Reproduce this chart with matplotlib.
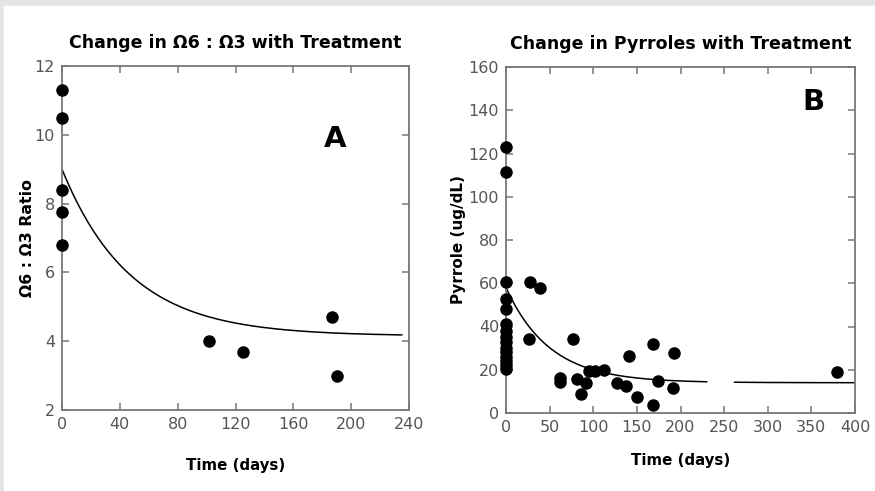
import numpy as np
import matplotlib
matplotlib.use("Agg")
import matplotlib.pyplot as plt
from matplotlib.patches import Rectangle

plt.rcParams["font.family"] = ["DejaVu Sans"]

# Panel A: omega-6 : omega-3 ratio
a_days = [0, 0, 0, 0, 0, 102, 125, 187, 190]
a_ratio = [11.3, 10.5, 8.4, 7.75, 6.8, 4.0, 3.7, 4.7, 3.0]
a_fit = (4.15, 4.85, 47.0)  # plateau, span, tau
a_fit_range = (0, 235)

# Panel B: pyrroles
b_days = [0, 0, 0, 0, 0, 0, 0, 0, 0, 0, 0, 0, 0, 0, 0,
          27, 39, 26, 62, 62, 77, 81, 86, 92, 95, 102, 112,
          127, 137, 141, 150, 168, 168, 174, 191, 193, 379]
b_pyrrole = [123, 111.4, 60.5, 52.8, 48, 41, 38, 35, 33, 30, 28, 26, 24, 22, 20.5,
             60.5, 58, 34.4, 16, 14.3, 34.4, 15.9, 9, 14, 19.4, 19.4, 20,
             14, 12.3, 26.2, 7.4, 32, 3.5, 15, 11.7, 27.7, 19]
b_fit = (14.0, 44.0, 50.0)
b_fit_segments = [(0, 230), (262, 400)]

fig = plt.figure(figsize=(8.75, 4.91), dpi=100)
fig.patches.append(Rectangle((0, 0), 1, 1, transform=fig.transFigure,
                             color="#e3e4e6", zorder=-2))
fig.patches.append(Rectangle((4 / 875, 0), 1, 1 - 6 / 491, transform=fig.transFigure,
                             color="white", zorder=-1))


def decay(t, p):
    plateau, span, tau = p
    return plateau + span * np.exp(-t / tau)


def style_axes(ax):
    for s in ax.spines.values():
        s.set_color("#777777")
        s.set_linewidth(1.3)
    ax.tick_params(direction="in", length=5, width=1.1, color="#777777",
                   top=True, right=True, labelsize=11.5, labelcolor="#555555", pad=5)


# --- panel A
axA = fig.add_axes([62 / 875, 1 - 410 / 491, 347 / 875, 344 / 491])
axA.scatter(a_days, a_ratio, s=64, color="black", zorder=3, clip_on=False)
t = np.linspace(*a_fit_range, 200)
axA.plot(t, decay(t, a_fit), color="black", lw=1.1)
axA.set_xlim(0, 240)
axA.set_ylim(2, 12)
axA.set_xticks(np.arange(0, 241, 40))
axA.set_yticks(np.arange(2, 13, 2))
style_axes(axA)
axA.set_title("Change in \u03a96 : \u03a93 with Treatment", fontsize=12.5,
              fontweight="bold", pad=13)
axA.set_xlabel("Time (days)", fontsize=10.8, fontweight="bold", labelpad=19)
axA.set_ylabel("\u03a96 : \u03a93 Ratio", fontsize=11.3, fontweight="bold", labelpad=0)
axA.text(0.787, 0.788, "A", transform=axA.transAxes, fontsize=21, fontweight="bold",
         ha="center", va="center")

# --- panel B
axB = fig.add_axes([506 / 875, 1 - 413 / 491, 349 / 875, 346 / 491])
axB.scatter(b_days, b_pyrrole, s=64, color="black", zorder=3, clip_on=False)
for lo, hi in b_fit_segments:
    t = np.linspace(lo, hi, 200)
    axB.plot(t, decay(t, b_fit), color="black", lw=1.1)
axB.set_xlim(0, 400)
axB.set_ylim(0, 160)
axB.set_xticks(np.arange(0, 401, 50))
axB.set_yticks(np.arange(0, 161, 20))
style_axes(axB)
axB.set_title("Change in Pyrroles with Treatment", fontsize=12.5,
              fontweight="bold", pad=13)
axB.set_xlabel("Time (days)", fontsize=10.8, fontweight="bold", labelpad=13)
axB.set_ylabel("Pyrrole (ug/dL)", fontsize=11, fontweight="bold", labelpad=2)
axB.text(0.88, 0.90, "B", transform=axB.transAxes, fontsize=21, fontweight="bold",
         ha="center", va="center")

fig.savefig("out.png", dpi=100)
